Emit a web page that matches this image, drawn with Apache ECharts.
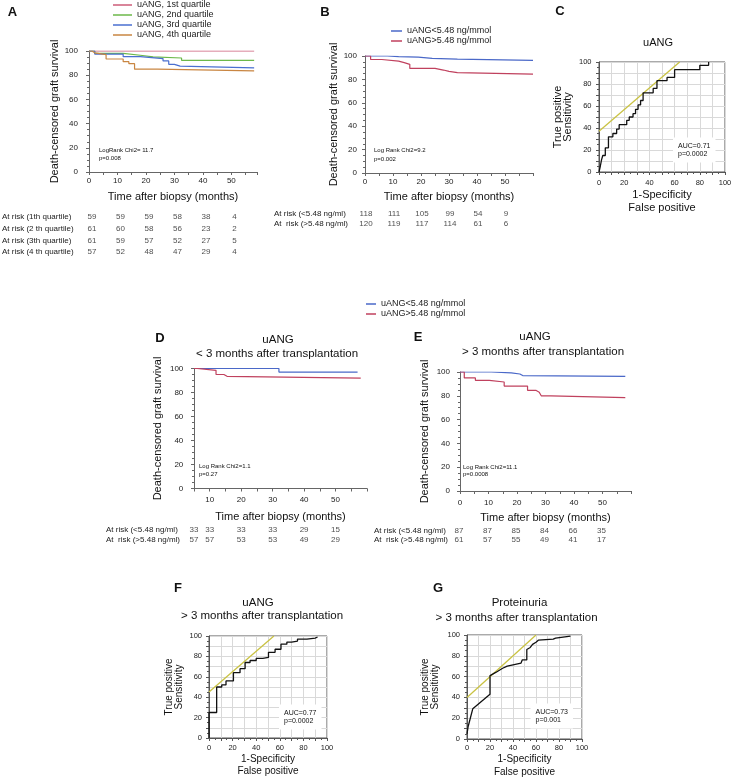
<!DOCTYPE html>
<html><head><meta charset="utf-8">
<script src="https://cdn.jsdelivr.net/npm/echarts@6/dist/echarts.min.js"></script>
<style>html,body{margin:0;padding:0;background:#fff}#c{width:731px;height:778px}</style>
</head><body><div id="c"></div>
<script>
const FONT = "'Liberation Sans', Arial, Helvetica, sans-serif";

// ---------- Panel A ----------
const aNames = ['uANG, 1st quartile','uANG, 2nd quartile','uANG, 3rd quartile','uANG, 4th quartile'];
const aQ1 = [[0,100],[58,100]];
const aQ2 = [[0,100],[2,98],[12,96.5],[18,95.2],[22.5,94.2],[32.5,92.3],[58,92.3]];
const aQ3 = [[0,100],[2,97.5],[12,95.3],[18,93.7],[26,91.8],[28,89],[30,87.5],[32,86],[58,86]];
const aQ4 = [[0,100],[1,98.5],[2,97],[6,93.4],[12,91.2],[14,89.5],[16,85],[24,83.5],[58,83.5]];
const aRiskTimes = [0,10,20,30,40,50];
const aRiskRows = ['At risk (1th quartile)','At risk (2 th quartile)','At risk (3th quartile)','At risk (4 th quartile)'];
const aRisk1 = [59,59,59,58,38,4];
const aRisk2 = [61,60,58,56,23,2];
const aRisk3 = [61,59,57,52,27,5];
const aRisk4 = [57,52,48,47,29,4];

// ---------- Panel B ----------
const lowName = 'uANG<5.48 ng/mmol';
const highName = 'uANG>5.48 ng/mmol';
const bLow = [[0,100],[8,99.5],[12,99],[19,98],[24,97.4],[33,96.3],[60,96.3]];
const bHigh = [[0,100],[2,97],[6,95.6],[12,94.3],[14,92.9],[16,89.4],[25,88],[28,86.8],[30,85.8],[33,84.5],[60,84.5]];
const bRiskTimes = [0,10,20,30,40,50];
const riskRowsNg = ['At risk (<5.48 ng/ml)','At  risk (>5.48 ng/ml)'];
const bRiskLow = [118,111,105,99,54,9];
const bRiskHigh = [120,119,117,114,61,6];

// ---------- Panel C (ROC uANG) ----------
const cRoc = [[0,0],[1,5],[2,11],[3,15],[5,22],[7.5,32],[11,35],[14,39],[16,43],[22,47],[24,50],[27,53],[29,57],[31,61],[33,65],[35,72],[43,76],[46,83],[54,86],[60,93],[80,97],[87,100]];
const cTangent = [[0,37],[64,100]];

// ---------- Panel D ----------
const dLow = [[5,100],[32,97],[57,97]];
const dHigh = [[5,100],[6,98.5],[12,95],[14.5,93.5],[15.5,92],[58,92]];
const dRiskTimes = [5,10,20,30,40,50];
const dRiskLow = [33,33,33,33,29,15];
const dRiskHigh = [57,57,53,53,49,29];

// ---------- Panel E ----------
const eLow = [[0,100],[11,99.2],[18,98.3],[21,97],[22,96.4],[58,96.4]];
const eHigh = [[0,100],[1.5,95],[5.4,93],[10.3,91.6],[15.5,88.2],[23.7,84.6],[26.6,83],[27.8,81.8],[28.5,80],[31.9,78.4],[58,78.4]];
const eRiskTimes = [0,10,20,30,40,50];
const eRiskLow = [87,87,85,84,66,35];
const eRiskHigh = [61,57,55,49,41,17];

// ---------- Panel F (ROC uANG > 3 months) ----------
const fRoc = [[0,0],[0,25],[6.5,50],[10.8,52],[14.4,56],[20.7,64],[26.3,68],[30.6,74],[34.8,76],[40,78],[45.6,79],[50.4,84],[56,87],[61,92],[66,94],[70,95],[75,97],[83,98],[90,99],[92,99]];
const fTangent = [[0,45],[55,100]];

// ---------- Panel G (ROC proteinuria) ----------
const gRoc = [[0,5],[1,12],[5,29],[20,43],[20,61],[25,64],[31,68],[35,70],[47,73],[48,76],[52,76],[52,86],[55,88],[57,91],[60,93],[62,95],[75,96],[77,97],[78,98.5],[90,99]];
const gTangent = [[0,40],[60,100]];

// colours
const C_Q1 = '#cc5c78', C_Q2 = '#6cb84a', C_Q3 = '#4a6fd0', C_Q4 = '#c98642';
const C_LOW = '#4a68c8', C_HIGH = '#c0415e', C_TAN = '#c9c243';

const grids = [], xAxes = [], yAxes = [], series = [];
function addGrid(b, extra) {
  grids.push(Object.assign({left:b[0], top:b[1], width:b[2], height:b[3], containLabel:false, outerBoundsMode:'none'}, extra || {}));
  return grids.length - 1;
}
const axisText = {fontFamily:FONT, color:'#222'};
function kmAxes(gi, xmin, xmax, o) {
  xAxes.push({gridIndex:gi, type:'value', min:xmin, max:xmax, interval:5,
    axisLine:{show:true, onZero:false, lineStyle:{color:'#666', width:1}},
    axisTick:{show:true, length:3, lineStyle:{color:'#666'}},
    axisLabel:Object.assign({fontSize:8, margin:o.xm, formatter: v => (v % 10 === 0 && v <= 50) ? String(v) : ''}, axisText),
    splitLine:{show:false},
    name:'Time after biopsy (months)', nameLocation:'middle', nameGap:o.xg,
    nameTextStyle:{fontSize:11, color:'#111', fontFamily:FONT}});
  yAxes.push({gridIndex:gi, type:'value', min:0, max:100, interval:20,
    axisLine:{show:true, onZero:false, lineStyle:{color:'#666'}},
    axisTick:{show:true, length:3, lineStyle:{color:'#666'}},
    minorTick:{show:true, splitNumber:4, length:2, lineStyle:{color:'#666'}},
    axisLabel:Object.assign({fontSize:8, margin:o.ym}, axisText),
    splitLine:{show:false},
    name:'Death-censored graft survival', nameLocation:'middle', nameRotate:90, nameGap:o.yg,
    nameTextStyle:{fontSize:11, color:'#111', fontFamily:FONT}});
}
function riskBlock(gi, xmin, xmax, rows, times, rowsValues, margin, offset) {
  xAxes.push({gridIndex:gi, type:'value', min:xmin, max:xmax, show:false});
  yAxes.push({gridIndex:gi, type:'category', data:rows, inverse:true,
    axisLine:{show:false}, axisTick:{show:false}, splitLine:{show:false},
    axisLabel:Object.assign({align:'left', margin:margin, fontSize:8, interval:0, hideOverlap:false}, axisText)});
  const data = [];
  rowsValues.forEach((arr, r) => arr.forEach((v, i) => data.push({value:[times[i], r, v]})));
  series.push({type:'scatter', name:'risk' + gi, xAxisIndex:gi, yAxisIndex:gi, data:data,
    symbolSize:1, itemStyle:{color:'rgba(0,0,0,0)'}, silent:true, animation:false,
    label:{show:true, position:'inside', formatter:p => String(p.value[2]), fontSize:8, color:'#222', fontFamily:FONT, offset:[offset,0]}});
}
function rocAxes(gi, o) {
  const lab = v => (v % 20 === 0) ? String(v) : '';
  const base = {type:'value', min:0, max:100, interval:10,
    axisLine:{show:true, onZero:false, lineStyle:{color:'#555'}},
    axisTick:{show:true, length:3, lineStyle:{color:'#555'}},
    minorTick:{show:true, splitNumber:2, length:2, lineStyle:{color:'#555'}},
    splitLine:{show:true, lineStyle:{color:'#d9d9d9', width:1}}};
  xAxes.push(Object.assign({}, base, {gridIndex:gi,
    axisLabel:Object.assign({fontSize:7.5, margin:o.xm, formatter:lab}, axisText),
    name:'1-Specificity\nFalse positive', nameLocation:'middle', nameGap:o.xg,
    nameTextStyle:{fontSize:o.fs, lineHeight:o.xlh, color:'#111', fontFamily:FONT}}));
  yAxes.push(Object.assign({}, base, {gridIndex:gi,
    axisLabel:Object.assign({fontSize:7.5, margin:o.ym, formatter:lab}, axisText),
    name:'True positive\nSensitivity', nameLocation:'middle', nameRotate:90, nameGap:o.yg,
    nameTextStyle:{fontSize:o.yfs, lineHeight:o.ylh, color:'#111', fontFamily:FONT}}));
}
function kmLine(gi, name, data, color) {
  series.push({type:'line', name:name, xAxisIndex:gi, yAxisIndex:gi, data:data, step:'end',
    symbol:'none', showSymbol:false, silent:true, animation:false,
    lineStyle:{color:color, width:1.2}, itemStyle:{color:color}});
}
function rocLine(gi, data, color, step) {
  series.push({type:'line', xAxisIndex:gi, yAxisIndex:gi, data:data, step:step || false,
    symbol:'none', showSymbol:false, silent:true, animation:false,
    lineStyle:{color:color, width:1.3}, itemStyle:{color:color}});
}

// Panel A
let g = addGrid([89, 51, 168, 121]);
kmAxes(g, 0, 59, {xm:5, xg:19.5, ym:11, yg:26.5});
kmLine(g, aNames[0], aQ1, C_Q1);
kmLine(g, aNames[1], aQ2, C_Q2);
kmLine(g, aNames[2], aQ3, C_Q3);
kmLine(g, aNames[3], aQ4, C_Q4);
g = addGrid([89, 211, 168, 47]);
riskBlock(g, 0, 59, aRiskRows, aRiskTimes, [aRisk1, aRisk2, aRisk3, aRisk4], 87, 3);

// Panel B
g = addGrid([365, 56, 168, 117]);
kmAxes(g, 0, 60, {xm:5, xg:18, ym:8, yg:25.5});
kmLine(g, lowName, bLow, C_LOW);
kmLine(g, highName, bHigh, C_HIGH);
g = addGrid([365, 209, 168, 20]);
riskBlock(g, 0, 60, riskRowsNg, bRiskTimes, [bRiskLow, bRiskHigh], 91, 1);

// Panel C
g = addGrid([599, 62, 126, 110], {show:true, borderColor:'#555', borderWidth:1});
rocAxes(g, {xm:7, xg:16, fs:11, xlh:13, ym:7.5, yg:25.5, yfs:11, ylh:10.5});
rocLine(g, cTangent, C_TAN);
rocLine(g, cRoc, '#111', 'end');

// Panel D
g = addGrid([194, 368.5, 173, 120]);
kmAxes(g, 5, 60, {xm:7.5, xg:22.5, ym:10.7, yg:30.5});
kmLine(g, lowName, dLow, C_LOW);
kmLine(g, highName, dHigh, C_HIGH);
g = addGrid([194, 525.5, 173, 19]);
riskBlock(g, 5, 60, riskRowsNg, dRiskTimes, [dRiskLow, dRiskHigh], 88, 0);

// Panel E
g = addGrid([460, 372, 171, 119]);
kmAxes(g, 0, 60, {xm:8, xg:21, ym:10, yg:29.5});
kmLine(g, lowName, eLow, C_LOW);
kmLine(g, highName, eHigh, C_HIGH);
g = addGrid([460, 526.5, 171, 18]);
riskBlock(g, 0, 60, riskRowsNg, eRiskTimes, [eRiskLow, eRiskHigh], 86, -1);

// Panel F
g = addGrid([209, 636, 118, 102], {show:true, borderColor:'#555', borderWidth:1});
rocAxes(g, {xm:6, xg:15, fs:10, xlh:12, ym:7, yg:25, yfs:10, ylh:10});
rocLine(g, fTangent, C_TAN);
rocLine(g, fRoc, '#111', 'end');

// Panel G
g = addGrid([467, 635, 115, 104], {show:true, borderColor:'#555', borderWidth:1});
rocAxes(g, {xm:5, xg:14, fs:10, xlh:12.5, ym:7, yg:27, yfs:10, ylh:10});
rocLine(g, gTangent, C_TAN);
rocLine(g, gRoc, '#111');

function txt(x, y, s, size, opt) {
  opt = opt || {};
  return {type:'text', x:x, y:y, silent:true, z:10,
    style:{text:s, fontSize:size, fontFamily:FONT, fontWeight:opt.bold ? 'bold' : 'normal',
      fill:opt.color || '#111', align:opt.align || 'left', verticalAlign:opt.va || 'middle',
      lineHeight:opt.lh, backgroundColor:opt.bg, padding:opt.pad}};
}
const graphic = [
  txt(12.5, 12, 'A', 13, {bold:true, align:'center'}),
  txt(325, 12, 'B', 13, {bold:true, align:'center'}),
  txt(560, 11.5, 'C', 13, {bold:true, align:'center'}),
  txt(160, 338.5, 'D', 13, {bold:true, align:'center'}),
  txt(418, 337, 'E', 13, {bold:true, align:'center'}),
  txt(178, 588, 'F', 13, {bold:true, align:'center'}),
  txt(438, 588, 'G', 13, {bold:true, align:'center'}),
  txt(658, 43, 'uANG', 11, {align:'center'}),
  txt(278, 340, 'uANG', 11.5, {align:'center'}),
  txt(277, 354, '< 3 months after transplantation', 11.5, {align:'center'}),
  txt(535, 337, 'uANG', 11.5, {align:'center'}),
  txt(543, 352, '> 3 months after transplantation', 11.5, {align:'center'}),
  txt(258, 603, 'uANG', 11.5, {align:'center'}),
  txt(262, 616, '> 3 months after transplantation', 11.5, {align:'center'}),
  txt(519.5, 603, 'Proteinuria', 11.5, {align:'center'}),
  txt(516.5, 618, '> 3 months after transplantation', 11.5, {align:'center'}),
  txt(99, 150, 'LogRank Chi2= 11.7', 6),
  txt(99, 158.5, 'p=0.008', 6),
  txt(374, 150.5, 'Log Rank Chi2=9.2', 6),
  txt(374, 159, 'p=0.002', 6),
  txt(199, 466, 'Log Rank Chi2=1.1', 6),
  txt(199, 474, 'p=0.27', 6),
  txt(463, 467, 'Log Rank Chi2=11.1', 6),
  txt(463, 474.5, 'p=0.0008', 6),
  txt(673, 137.5, 'AUC=0.71\np=0.0002', 7, {va:'top', lh:8.5, bg:'#fff', pad:[4,5,4,5]}),
  txt(279, 704.5, 'AUC=0.77\np=0.0002', 7, {va:'top', lh:8.5, bg:'#fff', pad:[4,5,4,5]}),
  txt(530.5, 703.5, 'AUC=0.73\np=0.001', 7, {va:'top', lh:8.5, bg:'#fff', pad:[4,5,4,5]})
];

const legendText = {fontSize:9, lineHeight:10, color:'#222', fontFamily:FONT};
const legend = [
  {data:aNames, orient:'vertical', left:113, top:0, padding:0, itemWidth:19, itemHeight:1.5, itemGap:0, icon:'rect', selectedMode:false, textStyle:legendText},
  {data:[lowName, highName], orient:'vertical', left:391, top:26, padding:0, itemWidth:11, itemHeight:1.5, itemGap:0, icon:'rect', selectedMode:false, textStyle:legendText},
  {data:[lowName, highName], orient:'vertical', left:366, top:299, padding:0, itemWidth:10, itemHeight:1.5, itemGap:0, icon:'rect', selectedMode:false, textStyle:legendText}
];

const chart = echarts.init(document.getElementById('c'), null, {renderer:'canvas'});
chart.setOption({
  animation:false,
  backgroundColor:'#fff',
  textStyle:{fontFamily:FONT},
  grid:grids, xAxis:xAxes, yAxis:yAxes, series:series,
  legend:legend, graphic:graphic
});
</script>
</body></html>
